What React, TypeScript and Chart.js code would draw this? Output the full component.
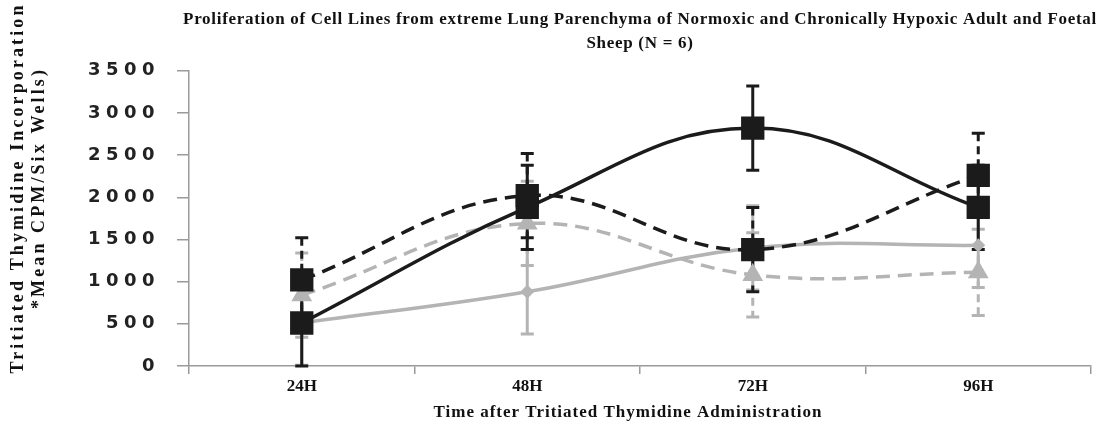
import React, { useEffect, useRef } from "react";
import { Chart, registerables } from "chart.js";

Chart.register(...registerables);

const titleLines = [
  "Proliferation of Cell Lines from extreme Lung Parenchyma of Normoxic and Chronically Hypoxic Adult and Foetal",
  "Sheep (N = 6)",
];
const xTitle = "Time after Tritiated Thymidine Administration";
const yTitleLines = ["Tritiated Thymidine Incorporation", "*Mean CPM/Six Wells)"];

const categories = ["24H", "48H", "72H", "96H"];
const yTickValues = [0, 500, 1000, 1500, 2000, 2500, 3000, 3500];

// series values (mean CPM)
const blackSolid = [510, 1880, 2820, 1880];
const blackDashed = [1020, 2020, 1380, 2260];
const greyDashed = [840, 1690, 1080, 1110];
const greySolid = [510, 880, 1400, 1430];

// error values (±)
const blackSolidErr = [510, 500, 500, 500];
const blackDashedErr = [500, 500, 500, 500];
const greyDashedErr = [500, 500, 500, 510];
const greySolidErr = [500, 500, 500, 500];

const BLACK = "#1b1b1b";
const GREY = "#b4b4b4";

const errorBarPlugin = {
  id: "errorBars",
  afterLayout(chart: any) {
    const tb = chart.titleBlock;
    if (tb && !tb.__patched) {
      tb.__patched = true;
      const orig = tb.draw;
      tb.draw = function (...args: any[]) {
        const ctx = this.ctx;
        const l = this.left;
        const r = this.right;
        this.left = l - 40;
        this.right = r + 40;
        ctx.save();
        (ctx as any).letterSpacing = "0.7px";
        orig.apply(this, args);
        ctx.restore();
        this.left = l;
        this.right = r;
      };
    }
  },
  beforeDatasetsDraw(chart: any) {
    const ctx = chart.ctx;
    const yScale = chart.scales.y;
    const sets = chart.data.datasets;
    for (let i = sets.length - 1; i >= 0; i--) {
      const ds: any = sets[i];
      const meta = chart.getDatasetMeta(i);
      ctx.save();
      ctx.strokeStyle = ds.borderColor;
      ctx.lineWidth = 3;
      meta.data.forEach((pt: any, j: number) => {
        const v = ds.data[j];
        const e = ds.errors[j];
        const top = yScale.getPixelForValue(v + e);
        const bot = yScale.getPixelForValue(Math.max(0, v - e));
        ctx.setLineDash(ds.errorDash || []);
        ctx.beginPath();
        ctx.moveTo(pt.x, top);
        ctx.lineTo(pt.x, bot);
        ctx.stroke();
        ctx.setLineDash([]);
        ctx.beginPath();
        ctx.moveTo(pt.x - 6.5, top);
        ctx.lineTo(pt.x + 6.5, top);
        ctx.moveTo(pt.x - 6.5, bot);
        ctx.lineTo(pt.x + 6.5, bot);
        ctx.stroke();
      });
      ctx.restore();
    }
  },
};

function withSpacing(
  scale: any,
  name: string,
  spacing: string,
  extent?: [number, number],
  horizontal?: boolean
) {
  const orig = scale[name];
  scale[name] = function (...args: any[]) {
    const ctx = this.ctx;
    const a = horizontal ? "left" : "top";
    const z = horizontal ? "right" : "bottom";
    let s0 = 0;
    let s1 = 0;
    if (extent) {
      s0 = this[a];
      s1 = this[z];
      this[a] = extent[0];
      this[z] = extent[1];
    }
    ctx.save();
    (ctx as any).letterSpacing = spacing;
    orig.apply(this, args);
    ctx.restore();
    if (extent) {
      this[a] = s0;
      this[z] = s1;
    }
  };
}

function patchY(scale: any) {
  if (scale.__patched) return;
  scale.__patched = true;
  withSpacing(scale, "drawTitle", "3.1px", [0, 376]);
  withSpacing(scale, "drawLabels", "5.5px");
}

function patchX(scale: any) {
  if (scale.__patched) return;
  scale.__patched = true;
  withSpacing(scale, "drawTitle", "1px", [189, 1067], true);
}

export default function App() {
  const ref = useRef<HTMLCanvasElement | null>(null);

  useEffect(() => {
    document.body.style.margin = "0";
    const canvas = ref.current!;
    const chart = new Chart(canvas, {
      type: "line",
      data: {
        labels: categories,
        datasets: [
          {
            label: "Series 1",
            data: blackSolid,
            errors: blackSolidErr,
            errorDash: [],
            borderColor: BLACK,
            backgroundColor: BLACK,
            borderWidth: 3.5,
            pointStyle: "rect",
            pointRadius: 16.5,
            pointBorderWidth: 0,
            tension: 0.4,
          } as any,
          {
            label: "Series 2",
            data: blackDashed,
            errors: blackDashedErr,
            errorDash: [8, 5],
            borderColor: BLACK,
            backgroundColor: BLACK,
            borderWidth: 3.5,
            borderDash: [14, 8],
            pointStyle: "rect",
            pointRadius: 16.5,
            pointBorderWidth: 0,
            tension: 0.4,
          } as any,
          {
            label: "Series 3",
            data: greyDashed,
            errors: greyDashedErr,
            errorDash: [8, 5],
            borderColor: GREY,
            backgroundColor: GREY,
            borderWidth: 3.5,
            borderDash: [14, 8],
            pointStyle: "triangle",
            pointRadius: 12,
            pointBorderWidth: 0,
            tension: 0.4,
          } as any,
          {
            label: "Series 4",
            data: greySolid,
            errors: greySolidErr,
            errorDash: [],
            borderColor: GREY,
            backgroundColor: GREY,
            borderWidth: 3.5,
            pointStyle: "rectRot",
            pointRadius: 7,
            pointBorderWidth: 0,
            tension: 0.4,
          } as any,
        ],
      },
      options: {
        animation: false,
        responsive: false,
        layout: { autoPadding: false, padding: { left: 0, right: 9, top: 0, bottom: 0 } },
        plugins: {
          legend: { display: false },
          tooltip: { enabled: false },
          title: {
            display: true,
            text: titleLines,
            fullSize: false,
            color: "#111",
            font: { family: "Liberation Serif", weight: "bold", size: 17, lineHeight: 1.36 },
            padding: { top: 8.5, bottom: 16 },
          },
        },
        scales: {
          x: {
            type: "category",
            offset: true,
            grid: {
              display: true,
              drawOnChartArea: false,
              drawTicks: true,
              tickLength: 8,
              color: "#9a9a9a",
              lineWidth: 1.5,
              offset: true,
            },
            border: { color: "#9a9a9a", width: 1.5 },
            ticks: {
              color: "#111",
              padding: 2,
              font: { family: "Liberation Serif", weight: "bold", size: 17 },
            },
            title: {
              display: true,
              text: xTitle,
              color: "#111",
              font: { family: "Liberation Serif", weight: "bold", size: 17, lineHeight: 1.2 },
              padding: { top: 0, bottom: 5 },
            },
            afterFit: (s: any) => {
              s.height = 62;
              patchX(s);
            },
          },
          y: {
            min: 0,
            max: 3500,
            afterBuildTicks: (s: any) => {
              s.ticks = yTickValues.map((v) => ({ value: v }));
            },
            grid: {
              display: true,
              drawOnChartArea: false,
              drawTicks: true,
              tickLength: 12,
              color: "#9a9a9a",
              lineWidth: 1.5,
            },
            border: { color: "#9a9a9a", width: 1.5 },
            ticks: {
              color: "#222",
              padding: 17,
              font: { family: "DejaVu Sans", weight: "bold", size: 18 },
              callback: (v: any) => String(v),
            },
            title: {
              display: true,
              text: yTitleLines,
              color: "#111",
              font: { family: "Liberation Serif", weight: "bold", size: 18, lineHeight: 1.17 },
              padding: { top: 7.5, bottom: 0 },
            },
            afterFit: (s: any) => {
              s.width = 189;
              patchY(s);
            },
          },
        },
      } as any,
      plugins: [errorBarPlugin],
    });
    return () => chart.destroy();
  }, []);

  return (
    <div style={{ width: 1100, height: 428 }}>
      <canvas ref={ref} width={1100} height={428} style={{ display: "block" }} />
    </div>
  );
}
